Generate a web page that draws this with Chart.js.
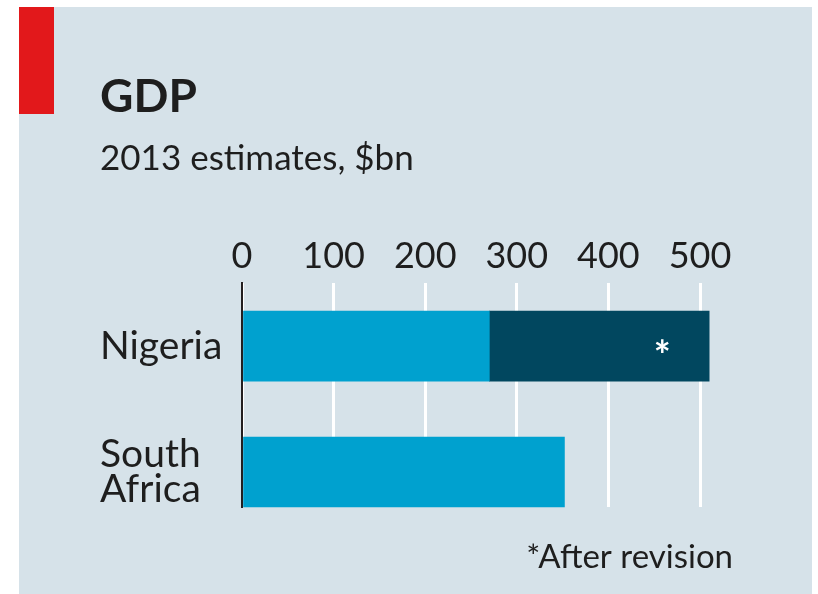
<!DOCTYPE html>
<html>
<head>
<meta charset="utf-8">
<script src="https://cdn.jsdelivr.net/npm/chart.js@4"></script>
<style>
  html, body { margin: 0; padding: 0; background: #ffffff; }
  canvas { display: block; }
</style>
</head>
<body>
<canvas id="c" width="818" height="594"></canvas>
<script>
// ---- data ----
const categories = [["Nigeria"], ["South", "Africa"]];
const estimates2013 = [270, 352];          // original 2013 estimates, $bn
const afterRevision = [510, null];         // Nigeria after GDP rebasing, $bn
const xTickValues = [0, 100, 200, 300, 400, 500];
const titleText = "GDP";
const subtitleText = "2013 estimates, $bn";
const footnoteText = "*After revision";

const BG = "#d6e2e9";
const LIGHT = "#00a1cf";
const DARK = "#01475f";
const RED = "#e2181b";
const INK = "#1e1e1e";
const FONT = "Lato";

const panelPlugin = {
  id: "panel",
  beforeDraw(chart) {
    const ctx = chart.ctx;
    ctx.save();
    ctx.fillStyle = BG;
    ctx.fillRect(19, 7, 793, 587);
    ctx.fillStyle = RED;
    ctx.fillRect(19, 7, 35, 107);
    ctx.restore();
  },
  afterDraw(chart) {
    const ctx = chart.ctx;
    ctx.save();
    ctx.fillStyle = INK;
    ctx.font = "33px " + FONT;
    ctx.textAlign = "right";
    ctx.textBaseline = "alphabetic";
    ctx.fillText(footnoteText, 733, 568);
    ctx.restore();
  }
};

const starPlugin = {
  id: "star",
  afterDatasetsDraw(chart) {
    const meta = chart.getDatasetMeta(1);
    const ctx = chart.ctx;
    meta.data.forEach((el) => {
      if (!el) return;
      ctx.save();
      ctx.fillStyle = "#ffffff";
      ctx.font = "bold 40px " + FONT;
      ctx.textAlign = "center";
      ctx.textBaseline = "alphabetic";
      ctx.fillText("*", el.x - 47, el.y + 24);
      ctx.restore();
    });
  }
};

const idx = categories.map((_, i) => i);
const revisedIdx = idx.filter(i => afterRevision[i] != null);

new Chart(document.getElementById("c"), {
  type: "bar",
  data: {
    datasets: [
      {
        label: "2013 estimate",
        data: idx.map(i => ({ y: i, x: estimates2013[i] })),
        backgroundColor: LIGHT,
        barThickness: 70,
        grouped: false,
        clip: false
      },
      {
        label: "After revision",
        data: revisedIdx.map(i => ({ y: i, x: [estimates2013[i], afterRevision[i]] })),
        backgroundColor: DARK,
        barThickness: 70,
        grouped: false,
        clip: false
      }
    ]
  },
  options: {
    indexAxis: "y",
    responsive: false,
    animation: false,
    events: [],
    layout: { padding: { left: 100, right: 118, top: 0, bottom: 87 } },
    plugins: {
      legend: { display: false },
      tooltip: { enabled: false },
      title: {
        display: true,
        text: titleText,
        align: "start",
        color: INK,
        font: { family: FONT, size: 46, weight: "bold", lineHeight: 1.2 },
        padding: { top: 70, bottom: 0 }
      },
      subtitle: {
        display: true,
        text: subtitleText,
        align: "start",
        color: INK,
        font: { family: FONT, size: 35, weight: "normal", lineHeight: 1.2 },
        padding: { top: 13, bottom: 0 }
      }
    },
    scales: {
      x: {
        type: "linear",
        position: "top",
        min: 0,
        max: 500,
        offset: false,
        afterBuildTicks(scale) { scale.ticks = xTickValues.map(v => ({ value: v })); },
        afterFit(scale) { scale.height = 103; },
        grid: { color: "#ffffff", lineWidth: 3, drawTicks: false, offset: false },
        border: { display: false },
        ticks: {
          color: INK,
          padding: 5,
          maxRotation: 0,
          font: { family: FONT, size: 36 },
          callback: v => String(v)
        }
      },
      y: {
        type: "linear",
        position: "left",
        reverse: true,
        offset: false,
        min: -0.5,
        max: 1.278,
        z: 1,
        afterBuildTicks(scale) { scale.ticks = idx.map(v => ({ value: v })); },
        afterFit(scale) { scale.width = 142; },
        grid: { display: false, drawTicks: false, offset: false },
        border: { display: true, color: "#231f20", width: 2 },
        ticks: {
          color: INK,
          crossAlign: "far",
          font: { family: FONT, size: 39, lineHeight: 0.9 },
          callback: v => categories[v]
        }
      }
    }
  },
  plugins: [panelPlugin, starPlugin]
});
</script>
</body>
</html>
